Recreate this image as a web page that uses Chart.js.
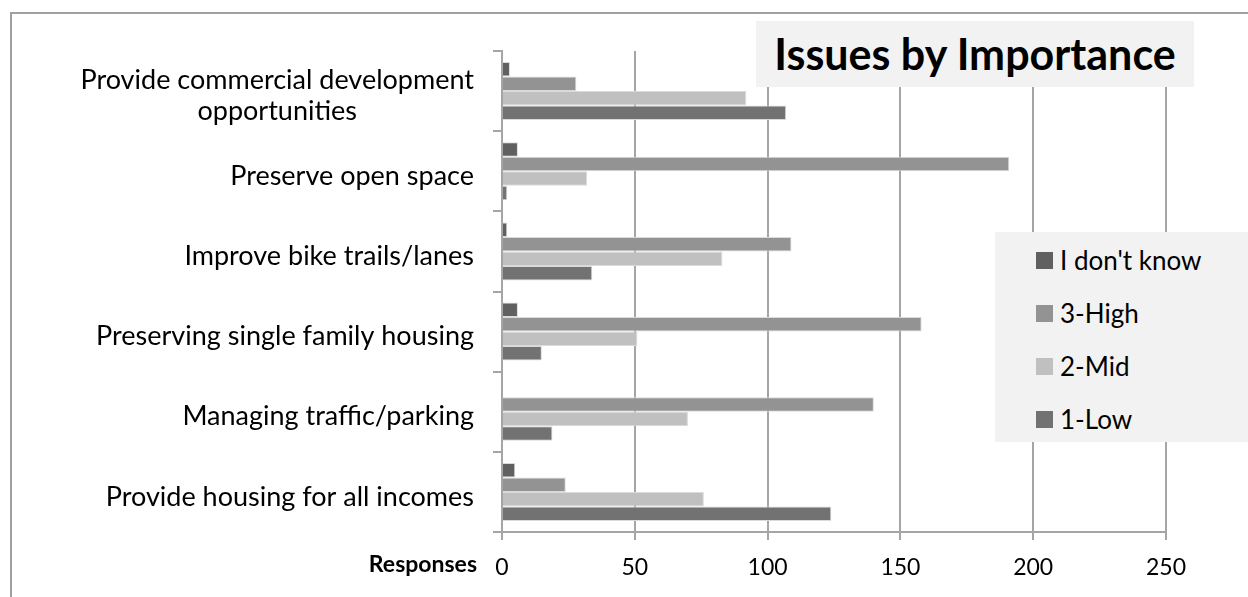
<!DOCTYPE html>
<html>
<head>
<meta charset="utf-8">
<script src="https://cdn.jsdelivr.net/npm/chart.js@4.4.1/dist/chart.umd.min.js"></script>
<style>
    html, body { margin: 0; padding: 0; background: #fff; }
    #wrap { position: relative; width: 1248px; height: 597px; overflow: hidden; font-family: Lato, sans-serif; }
    #frame { position: absolute; left: 10px; top: 12px; width: 1400px; height: 800px;
             border-left: 2px solid #a0a0a0; border-top: 2px solid #a0a0a0; }
    #chartBox { position: absolute; left: 0; top: 0; width: 1248px; height: 597px; }
    #title { position: absolute; left: 756px; top: 21px; width: 438px; height: 66px; background: #f2f2f2;
             font-weight: bold; font-size: 43px; line-height: 66px; text-align: center; color: #000; }
    #legend { position: absolute; left: 995px; top: 232px; width: 253px; height: 210px; background: #f2f2f2; }
    .item { position: absolute; left: 41px; height: 30px; display: flex; align-items: center; font-size: 26px; color: #000; }
    .item span.sw { width: 17px; height: 17px; margin-right: 7px; }
</style>
</head>
<body>
<div id="wrap">
    <div id="frame"></div>
    <div id="chartBox"><canvas id="issuesChart"></canvas></div>
    <div id="title">Issues by Importance</div>
    <div id="legend"></div>
</div>
<script>
// Issues by Importance - horizontal grouped bars

const categories = [
    ['Provide commercial development', 'opportunities'],
    'Preserve open space',
    'Improve bike trails/lanes',
    'Preserving single family housing',
    'Managing traffic/parking',
    'Provide housing for all incomes'
];
const seriesNames = ["I don't know", '3-High', '2-Mid', '1-Low'];
const dontKnow = [3, 6, 2, 6, 0, 5];
const high = [28, 191, 109, 158, 140, 24];
const mid = [92, 32, 83, 51, 70, 76];
const low = [107, 2, 34, 15, 19, 124];
const xTicks = [0, 50, 100, 150, 200, 250];

const colors = ['#606060', '#939393', '#c0c0c0', '#727272'];
const gridColor = '#a5a5a5';

// category labels drawn by hand so that wrapped lines are centred like the original
const categoryLabels = {
    id: 'categoryLabels',
    afterDraw(chart) {
        const { ctx, scales: { x, y } } = chart;
        ctx.save();
        ctx.fillStyle = '#000';
        ctx.textBaseline = 'middle';
        ctx.textAlign = 'center';
        ctx.font = '27px Lato';
        categories.forEach((lab, i) => {
            const lines = Array.isArray(lab) ? lab : [lab];
            const w = Math.max(...lines.map(l => ctx.measureText(l).width));
            const cx = x.left - 28 - w / 2;
            const cy = y.getPixelForValue(i) + 5;
            lines.forEach((l, j) => {
                ctx.fillText(l, cx, cy + (j - (lines.length - 1) / 2) * 31);
            });
        });
        ctx.font = 'bold 23px Lato';
        ctx.textAlign = 'right';
        ctx.fillText('Responses', x.left - 25, 565);
        ctx.restore();
    }
};

const values = [dontKnow, high, mid, low];

const chart = new Chart(document.getElementById('issuesChart'), {
    type: 'bar',
    data: {
        labels: categories,
        datasets: seriesNames.map((name, i) => ({
            label: name,
            data: values[i],
            backgroundColor: colors[i],
            borderColor: '#dadada',
            borderWidth: 1,
            categoryPercentage: 0.723,
            barPercentage: 1
        }))
    },
    options: {
        indexAxis: 'y',
        responsive: true,
        maintainAspectRatio: false,
        animation: false,
        layout: {
            padding: { top: 51, right: 82, left: 0, bottom: 0 }
        },
        plugins: {
            title: { display: false },
            legend: { display: false },
            tooltip: { enabled: false }
        },
        scales: {
            x: {
                min: 0,
                max: 250,
                afterFit: scale => { scale.height = 65; },
                afterBuildTicks: scale => { scale.ticks = xTicks.map(v => ({ value: v })); },
                border: { color: gridColor, width: 2 },
                grid: { color: gridColor, lineWidth: 2, tickLength: 8 },
                ticks: {
                    color: '#000',
                    font: { family: 'Lato', size: 23 },
                    padding: 14,
                    maxRotation: 0
                }
            },
            y: {
                afterFit: scale => { scale.width = 502; },
                border: { color: gridColor, width: 2 },
                grid: { color: gridColor, lineWidth: 2, drawOnChartArea: false, tickLength: 9, offset: true },
                ticks: { display: false }
            }
        }
    },
    plugins: [categoryLabels]
});

// legend built from the datasets
const legendBox = document.getElementById('legend');
chart.data.datasets.forEach((ds, i) => {
    const item = document.createElement('div');
    item.className = 'item';
    item.style.top = (13 + i * 53) + 'px';
    item.innerHTML = '<span class="sw" style="background:' + ds.backgroundColor + '"></span>' + ds.label;
    legendBox.appendChild(item);
});
</script>
</body>
</html>
